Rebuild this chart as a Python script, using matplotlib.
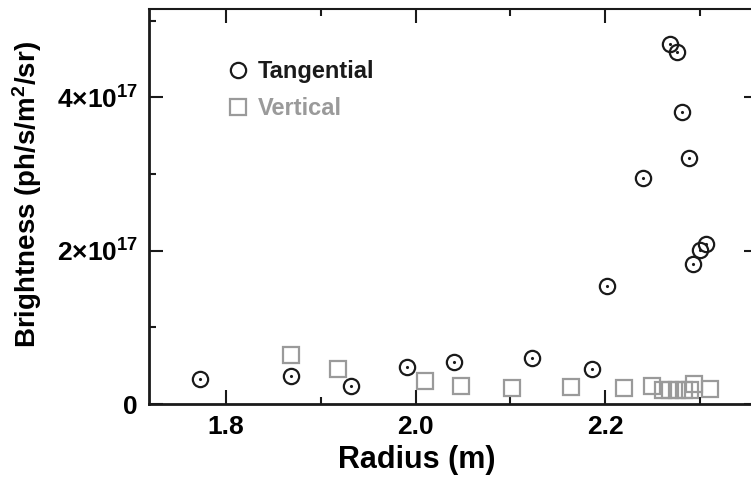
import matplotlib.pyplot as plt
from matplotlib.ticker import MultipleLocator, FixedLocator

plt.rcParams['font.family'] = ['Liberation Sans', 'DejaVu Sans']
plt.rcParams['font.weight'] = 'bold'
plt.rcParams['mathtext.fontset'] = 'custom'
plt.rcParams['mathtext.bf'] = 'Liberation Sans:bold'
plt.rcParams['mathtext.rm'] = 'Liberation Sans:bold'
plt.rcParams['mathtext.default'] = 'bf'

# tangential view (radius in m, brightness in ph/s/m^2/sr)
tang_r = [1.7726, 1.8683, 1.9319, 1.9910, 2.0406, 2.1230, 2.1866, 2.2021,
          2.2398, 2.2686, 2.2757, 2.2816, 2.2883, 2.2932, 2.3003, 2.3066]
tang_b = [0.32e17, 0.37e17, 0.23e17, 0.48e17, 0.55e17, 0.60e17, 0.46e17, 1.54e17,
          2.95e17, 4.69e17, 4.59e17, 3.81e17, 3.21e17, 1.83e17, 2.01e17, 2.08e17]

# vertical view
vert_r = [1.8686, 1.9185, 2.0097, 2.0480, 2.1022, 2.1638, 2.2201, 2.2501,
          2.2612, 2.2686, 2.2760, 2.2834, 2.2897, 2.2939, 2.3108]
vert_b = [0.64e17, 0.46e17, 0.30e17, 0.23e17, 0.21e17, 0.22e17, 0.21e17, 0.23e17,
          0.18e17, 0.18e17, 0.18e17, 0.18e17, 0.18e17, 0.26e17, 0.19e17]

ytick_vals = [0, 2e17, 4e17]
ytick_labels = ['0', r'2$\times$10$^{17}$', r'4$\times$10$^{17}$']
xtick_vals = [1.8, 2.0, 2.2]
xtick_labels = ['1.8', '2.0', '2.2']

black = '#1a1a1a'
gray = '#9a9a9a'

fig = plt.figure(figsize=(7.51, 4.80), dpi=100)
ax = fig.add_axes([149 / 751, 76 / 480, 609 / 751, 395 / 480])

ax.plot(vert_r, vert_b, 's', mfc='none', mec=gray, ms=12, mew=1.6, label='Vertical')
ax.plot(tang_r, tang_b, 'o', mfc='none', mec=black, ms=11, mew=1.6, label='Tangential')
ax.plot(tang_r, tang_b, '.', color=black, ms=2.5)

ax.set_xlim(1.7187, 2.3615)
ax.set_ylim(0, 5.15e17)

ax.xaxis.set_major_locator(FixedLocator(xtick_vals))
ax.xaxis.set_minor_locator(MultipleLocator(0.1))
ax.yaxis.set_major_locator(FixedLocator(ytick_vals))
ax.yaxis.set_minor_locator(MultipleLocator(1e17))
ax.set_xticklabels(xtick_labels)
ax.set_yticklabels(ytick_labels)

ax.tick_params(which='both', direction='in', top=True, right=True, width=1.5,
               color=black, labelsize=19, pad=8)
ax.tick_params(which='major', length=10)
ax.tick_params(which='minor', length=5)
for lab in ax.get_xticklabels() + ax.get_yticklabels():
    lab.set_fontweight('bold')

for s in ['left', 'bottom']:
    ax.spines[s].set_linewidth(2)
ax.spines['top'].set_linewidth(1.5)
ax.spines['right'].set_linewidth(1.5)
for s in ax.spines.values():
    s.set_color(black)

ax.set_xlabel('Radius (m)', fontsize=22, fontweight='bold', labelpad=4, x=0.44)
ax.set_ylabel(r'Brightness (ph/s/m$^2$/sr)', fontsize=20, fontweight='bold',
              labelpad=9, y=0.53)

h, l = ax.get_legend_handles_labels()
leg = ax.legend(h[::-1], l[::-1], loc='upper left', frameon=False,
                bbox_to_anchor=(77 / 609, 344 / 395), borderaxespad=0, borderpad=0,
                handletextpad=0.35, handlelength=1.0, labelspacing=0.6,
                prop={'size': 17, 'weight': 'bold'})
leg.get_texts()[0].set_color(black)
leg.get_texts()[1].set_color(gray)

fig.savefig('out.png', dpi=100)
